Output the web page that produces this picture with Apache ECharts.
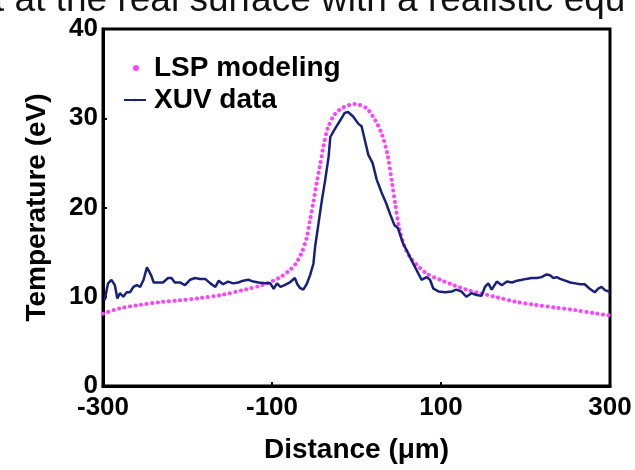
<!DOCTYPE html>
<html>
<head>
<meta charset="utf-8">
<script src="https://cdn.jsdelivr.net/npm/echarts@6/dist/echarts.min.js"></script>
<style>
  html, body { margin: 0; padding: 0; background: #fff; }
  #chart { width: 635px; height: 470px; }
</style>
</head>
<body>
<div id="chart"></div>
<script>
// LSP modeling curve
const lspDistance = [-300, -280, -256, -232, -209, -185, -160, -132, -112, -92, -80, -72, -65, -59, -55, -51, -47, -43, -39, -34, -26, -16, -2, 12, 22, 30, 37, 42, 46, 51, 57, 63, 71, 83, 99, 115, 130, 146, 164, 188, 211, 235, 259, 282, 300];
const lspTemp = [8.1, 8.7, 9.1, 9.4, 9.6, 9.85, 10.2, 10.8, 11.3, 12.1, 12.9, 13.7, 14.9, 16.6, 18.6, 20.6, 22.8, 24.8, 26.9, 28.9, 30.4, 31.2, 31.6, 31.1, 29.8, 28.2, 25.8, 22.8, 20.3, 17.5, 15.6, 14.5, 13.6, 12.6, 11.9, 11.3, 10.8, 10.4, 10.0, 9.45, 9.1, 8.8, 8.5, 8.15, 7.9];

// XUV measured profile
const xuvDistance = [-298, -296, -294, -290, -286, -283, -280, -276, -272, -268, -264, -260, -256, -252, -248, -246, -243, -240, -234, -229, -223, -219, -215, -209, -203, -197, -191, -185, -179, -173, -167, -163, -158, -152, -146, -140, -134, -128, -122, -116, -108, -102, -98, -94, -90, -85, -79, -73, -70, -67, -63, -59, -55, -51, -49, -45, -41, -37, -33, -31, -25, -19, -14, -10, -4, 2, 6, 9, 14, 19, 24, 30, 35, 40, 45, 49, 55, 61, 65, 71, 77, 83, 87, 91, 97, 105, 113, 118, 124, 130, 136, 142, 148, 152, 156, 160, 166, 172, 178, 184, 190, 196, 201, 207, 213, 219, 225, 229, 233, 237, 241, 247, 253, 259, 265, 270, 276, 282, 286, 290, 294, 298, 300];
const xuvTemp = [9.6, 10.6, 11.5, 11.9, 11.3, 9.8, 10.4, 10.0, 10.5, 10.5, 11.1, 11.3, 11.1, 11.9, 13.3, 13.5, 12.4, 11.6, 11.6, 11.6, 12.1, 12.1, 11.6, 11.6, 11.3, 11.9, 12.1, 12.0, 12.0, 11.5, 11.1, 11.8, 11.4, 11.7, 11.5, 11.6, 11.8, 11.9, 11.7, 11.6, 11.5, 11.5, 10.9, 11.5, 11.1, 11.3, 11.6, 12.1, 11.4, 11.0, 10.8, 11.4, 12.4, 13.7, 15.6, 18.2, 20.8, 23.1, 25.7, 27.9, 28.9, 29.8, 30.6, 30.7, 30.2, 29.4, 29.1, 27.9, 25.9, 25.0, 23.1, 21.6, 20.5, 19.2, 18.0, 17.7, 16.0, 14.9, 14.1, 13.0, 11.9, 12.2, 11.9, 10.9, 10.6, 10.5, 10.6, 10.8, 10.6, 10.0, 10.4, 10.2, 10.1, 11.1, 11.5, 10.8, 11.7, 11.3, 11.7, 11.6, 11.8, 11.9, 12.0, 12.1, 12.1, 12.2, 12.5, 12.4, 12.1, 12.2, 12.0, 11.8, 11.6, 11.5, 11.4, 11.4, 10.9, 10.5, 10.9, 11.1, 10.75, 10.6, 10.6];

const xTicks = [-300, -100, 100, 300];
const yTicks = [0, 10, 20, 30, 40];

const FONT = 'Liberation Sans';
const pair = (xs, ys) => xs.map((x, i) => [x, ys[i]]);

const chart = echarts.init(document.getElementById('chart'));

chart.setOption({
  animation: false,
  backgroundColor: '#fff',
  grid: {
    left: 103, right: 25, top: 29, bottom: 84,
    show: true, borderColor: '#000', borderWidth: 3
  },
  // top line of the surrounding page text, cut off by the crop
  graphic: [{
    type: 'text',
    left: -6, top: -18,
    style: { text: 't at the real surface with a realistic equ', font: '37px ' + FONT, fill: '#111' }
  }],
  legend: [{
    data: [{ name: 'LSP modeling', icon: 'circle' }],
    left: 128, top: 49,
    itemWidth: 6, itemHeight: 6,
    textStyle: { fontFamily: FONT, fontWeight: 'bold', fontSize: 28, color: '#000', padding: [0, 0, 0, 10] }
  }, {
    data: ['XUV data'],
    left: 118, top: 81,
    itemWidth: 22, itemHeight: 3,
    textStyle: { fontFamily: FONT, fontWeight: 'bold', fontSize: 28, color: '#000', padding: [0, 0, 0, 3] }
  }],
  xAxis: {
    type: 'value', min: -300, max: 300, interval: 200,
    name: 'Distance (\u03bcm)', nameLocation: 'middle', nameGap: 50,
    nameTextStyle: { fontFamily: FONT, fontWeight: 'bold', fontSize: 28, color: '#000' },
    axisLine: { onZero: false, lineStyle: { color: '#000', width: 3 } },
    axisTick: { inside: true, length: 4, lineStyle: { color: '#000', width: 2 } },
    axisLabel: {
      margin: 9, fontFamily: FONT, fontWeight: 'bold', fontSize: 26, color: '#000',
      formatter: v => xTicks.includes(v) ? String(v) : ''
    },
    splitLine: { show: false }
  },
  yAxis: {
    type: 'value', min: 0, max: 40, interval: 10,
    name: 'Temperature (eV)', nameLocation: 'middle', nameGap: 52, nameRotate: 90,
    nameTextStyle: { fontFamily: FONT, fontWeight: 'bold', fontSize: 28, color: '#000' },
    axisLine: { onZero: false, lineStyle: { color: '#000', width: 3 } },
    axisTick: { inside: true, length: 4, lineStyle: { color: '#000', width: 2 } },
    axisLabel: {
      margin: 5, fontFamily: FONT, fontWeight: 'bold', fontSize: 26, color: '#000',
      formatter: v => yTicks.includes(v) ? String(v) : ''
    },
    splitLine: { show: false }
  },
  series: [{
    name: 'LSP modeling',
    type: 'line',
    data: pair(lspDistance, lspTemp),
    smooth: 0.3,
    symbol: 'none',
    color: '#ff40ff',
    lineStyle: { color: '#ff40ff', width: 4, type: [0.1, 5.5], cap: 'round' },
    z: 2
  }, {
    name: 'XUV data',
    type: 'line',
    data: pair(xuvDistance, xuvTemp),
    symbol: 'none',
    color: '#18207e',
    lineStyle: { color: '#18207e', width: 2.5 },
    z: 3
  }]
});
</script>
</body>
</html>
